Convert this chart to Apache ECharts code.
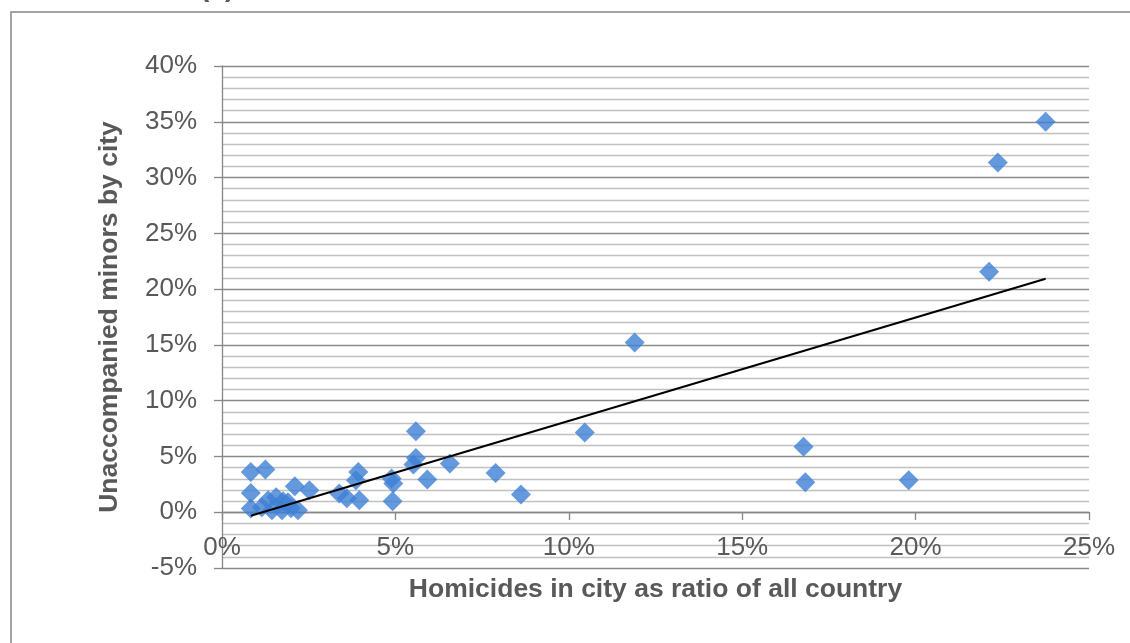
<!DOCTYPE html>
<html>
<head>
<meta charset="utf-8">
<script src="https://cdn.jsdelivr.net/npm/echarts@6/dist/echarts.min.js"></script>
<style>
html,body{margin:0;padding:0;background:#fff;overflow:hidden;}
#c{width:1130px;height:643px;}
</style>
</head>
<body>
<div id="c"></div>
<script>
// Homicides in city as ratio of all country (%)
const homicideShare = [
  0.83, 1.25, 0.83, 0.83,
  1.33, 1.56, 1.76, 1.15, 1.44, 1.73, 1.99, 2.19, 1.90,
  2.10, 2.52, 3.38, 3.60, 3.96, 3.93, 3.86, 4.89, 4.94, 4.92,
  5.59, 5.59, 5.52, 5.92, 6.57, 7.89, 8.62, 10.46,
  11.90, 16.77, 16.82, 19.80, 22.12, 22.37, 23.75
];
// Unaccompanied minors by city (%)
const minorsShare = [
  3.61, 3.83, 1.73, 0.33,
  1.08, 1.35, 0.99, 0.45, 0.18, 0.18, 0.36, 0.18, 0.90,
  2.33, 1.97, 1.68, 1.26, 1.08, 3.61, 2.87, 3.02, 2.57, 0.99,
  7.26, 4.87, 4.28, 2.93, 4.37, 3.52, 1.59, 7.15,
  15.22, 5.86, 2.69, 2.87, 21.55, 31.36, 35.00
];
const xTitle = 'Homicides in city as ratio of all country';
const yTitle = 'Unaccompanied minors by city';
const panelLabel = '(a)';

const points = homicideShare.map((x, i) => [x, minorsShare[i]]);

// linear least-squares trendline computed from the data
const n = points.length;
const mx = homicideShare.reduce((a, b) => a + b, 0) / n;
const my = minorsShare.reduce((a, b) => a + b, 0) / n;
let sxy = 0, sxx = 0;
for (let i = 0; i < n; i++) {
  sxy += (homicideShare[i] - mx) * (minorsShare[i] - my);
  sxx += (homicideShare[i] - mx) * (homicideShare[i] - mx);
}
const slope = sxy / sxx;
const intercept = my - slope * mx;
const xMin = Math.min(...homicideShare);
const xMax = Math.max(...homicideShare);
const trend = [[xMin, intercept + slope * xMin], [xMax, intercept + slope * xMax]];

const FONT = "'Liberation Sans', Arial, sans-serif";
const chart = echarts.init(document.getElementById('c'), null, { width: 1130, height: 643 });
chart.setOption({
  animation: false,
  backgroundColor: '#ffffff',
  graphic: [
    {
      type: 'rect', silent: true, z: -1,
      shape: { x: 11, y: 12, width: 1300, height: 800 },
      style: { fill: 'none', stroke: '#878787', lineWidth: 1.5 }
    },
    {
      type: 'text', left: 200, top: -26,
      style: { text: panelLabel, font: "bold 28px " + FONT, fill: '#595959' }
    }
  ],
  grid: { left: 222, top: 66, width: 867, height: 502, containLabel: false },
  xAxis: {
    type: 'value', min: 0, max: 25, interval: 5,
    position: 'bottom', offset: -56,
    name: xTitle, nameLocation: 'middle', nameGap: 64,
    nameTextStyle: { fontFamily: FONT, fontSize: 26.5, fontWeight: 'bold', color: '#595959' },
    axisLine: { show: true, onZero: false, lineStyle: { color: '#868686', width: 1.3 } },
    axisTick: { show: true, length: 8, lineStyle: { color: '#868686', width: 1.3 } },
    axisLabel: { formatter: '{value}%', fontFamily: FONT, fontSize: 26, color: '#595959', margin: 23 },
    splitLine: { show: false }
  },
  yAxis: {
    type: 'value', min: -5, max: 40, interval: 5,
    name: yTitle, nameLocation: 'middle', nameGap: 99, nameRotate: 90,
    nameTextStyle: { fontFamily: FONT, fontSize: 26.5, fontWeight: 'bold', color: '#595959' },
    axisLine: { show: true, lineStyle: { color: '#868686', width: 1.3 } },
    axisTick: { show: true, length: 8, lineStyle: { color: '#868686', width: 1.3 } },
    axisLabel: { formatter: '{value}%', fontFamily: FONT, fontSize: 26, color: '#595959', margin: 25 },
    splitLine: { show: true, lineStyle: { color: '#8a8a8a', width: 1.3 } },
    minorTick: { show: false, splitNumber: 5 },
    minorSplitLine: { show: true, lineStyle: { color: '#c0c0c0', width: 1.3 } }
  },
  series: [
    {
      type: 'scatter', data: points, symbol: 'diamond', symbolSize: 20,
      itemStyle: { color: '#3f80d4' }, z: 2
    },
    {
      type: 'line', data: trend, showSymbol: false, symbol: 'none',
      lineStyle: { color: '#000000', width: 2 }, z: 3
    }
  ]
});
</script>
</body>
</html>
